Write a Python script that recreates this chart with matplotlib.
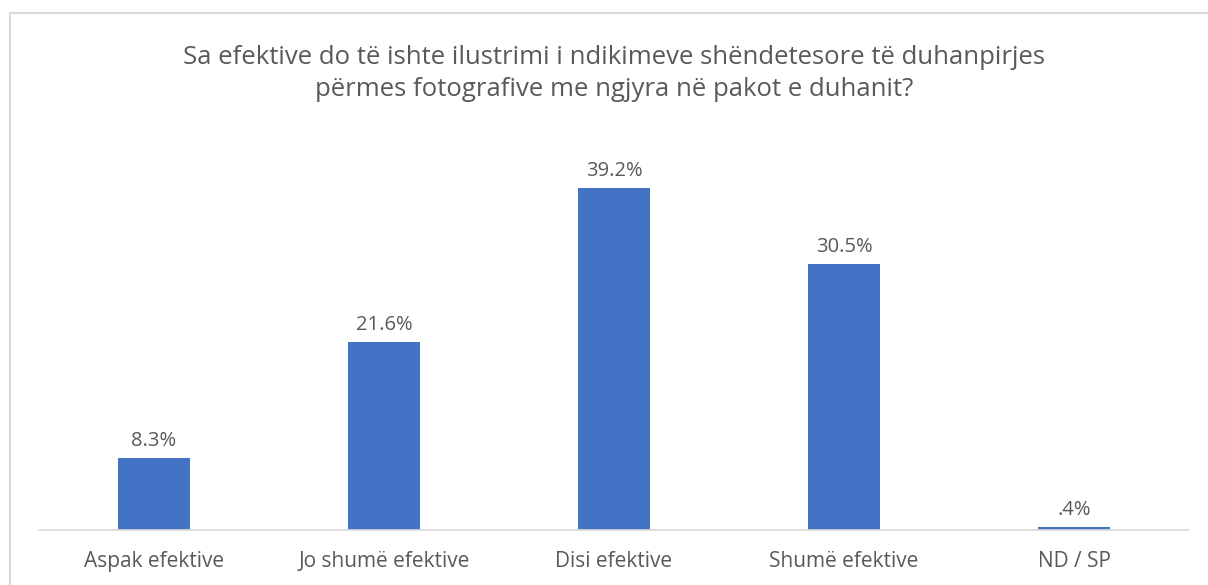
import matplotlib
matplotlib.use("Agg")
import matplotlib.pyplot as plt
from matplotlib.patches import Rectangle

categories = ["Aspak efektive", "Jo shumë efektive", "Disi efektive", "Shumë efektive", "ND / SP"]
values = [8.3, 21.6, 39.2, 30.5, 0.4]
labels = ["8.3%", "21.6%", "39.2%", "30.5%", ".4%"]
title = "Sa efektive do të ishte ilustrimi i ndikimeve shëndetesore të duhanpirjes\npërmes fotografive me ngjyra në pakot e duhanit?"

W, H = 1208, 585
fig = plt.figure(figsize=(W/100, H/100), dpi=100)
plt.rcParams['font.family'] = ['Open Sans', 'DejaVu Sans']
txt = '#595959'

fig.patches.append(Rectangle((10/W, -0.1), 1.2, (H-13)/H + 0.1, transform=fig.transFigure,
                             fill=False, edgecolor='#D9D9D9', linewidth=1.5))

ymax = 45
px_per = 342/39.2
top_px = 530 - ymax*px_per
ax = fig.add_axes([39/W, 55/H, (1189-39)/W, (530-top_px)/H])
x = range(len(categories))
ax.bar(x, values, width=72/230, color='#4472C4')
for i, (v, l) in enumerate(zip(values, labels)):
    ax.annotate(l, (i, v), xytext=(0, 5), textcoords='offset points', ha='center', va='bottom',
                fontsize=14.5, color=txt)
ax.set_xlim(-0.5, len(categories)-0.5)
ax.set_ylim(0, ymax)
ax.set_xticks(list(x))
ax.set_xticklabels(categories, fontsize=15, color=txt)
ax.tick_params(axis='x', length=0, pad=15)
ax.set_yticks([])
for s in ['top', 'right', 'left']:
    ax.spines[s].set_visible(False)
ax.spines['bottom'].set_color('#D9D9D9')
ax.spines['bottom'].set_linewidth(1.2)
ax.patch.set_alpha(0)

fig.text(614/W, 1-73.5/H, title, ha='center', va='center', fontsize=18.5, color=txt, linespacing=1.4)

fig.savefig("out.png", dpi=100)
